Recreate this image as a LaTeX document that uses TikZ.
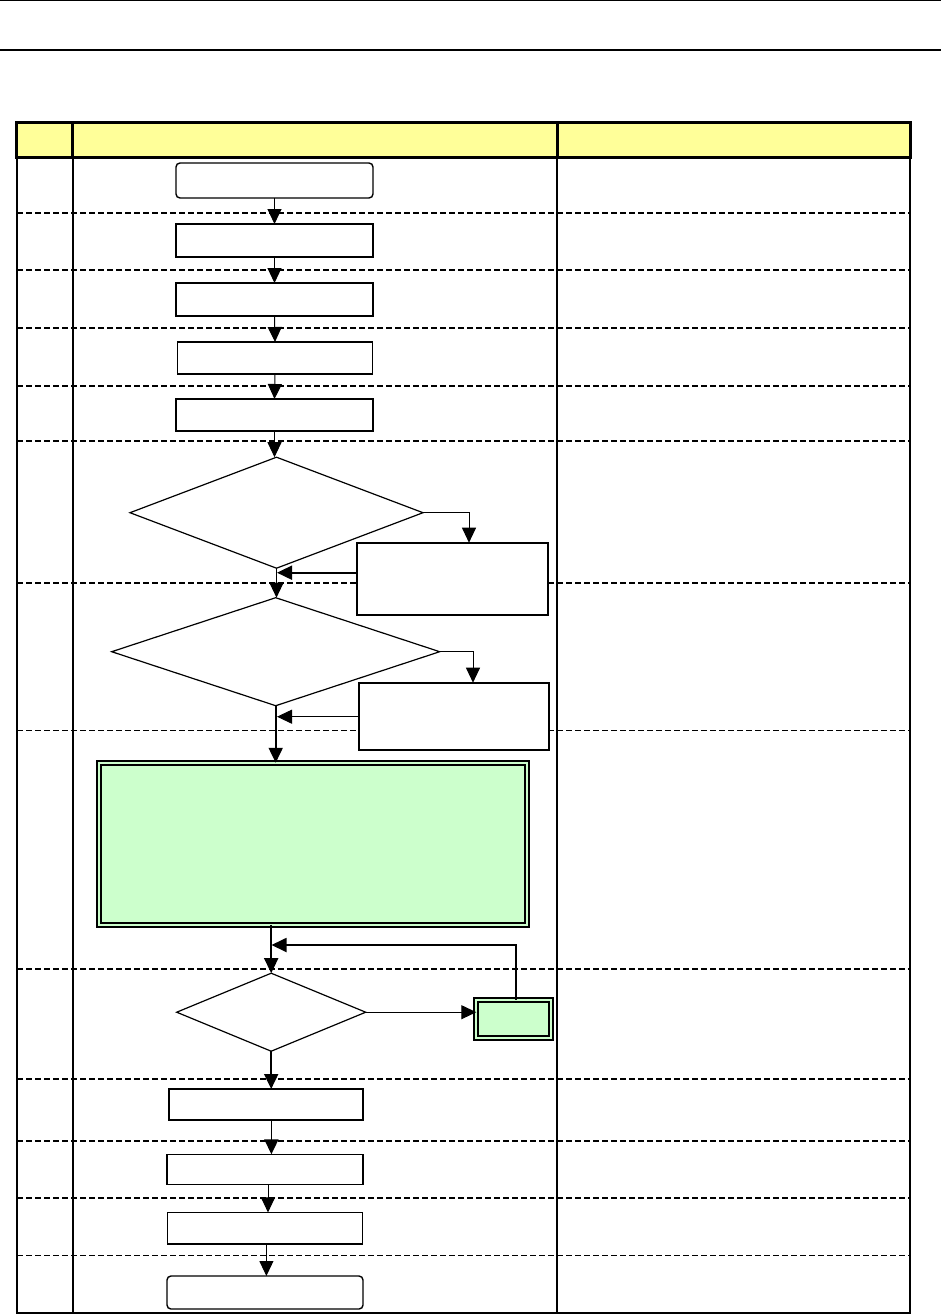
\documentclass[tikz,border=0pt]{standalone}
\usetikzlibrary{arrows.meta,shapes.geometric}
\definecolor{hdr}{HTML}{FFFF99}
\definecolor{grn}{HTML}{CCFFCC}
\begin{document}
\begin{tikzpicture}[x=1pt,y=-1pt,
  box/.style={draw,line width=1.6pt,inner sep=0pt,outer sep=0pt,fill=white},
  rbox/.style={box,rounded corners=4pt},
  dia/.style={draw,diamond,line width=1.2pt,inner sep=0pt,outer sep=0pt,fill=white},
  gbox/.style={draw,line width=1.9pt,double=grn,double distance=2.2pt,fill=grn,inner sep=0pt,outer sep=0pt},
  arr/.style={line width=1pt,-{Triangle[length=15pt,width=14pt]}},
  tarr/.style={line width=1.8pt,-{Triangle[length=15pt,width=14pt]}},
  rowline/.style={line width=1.6pt,dash pattern=on 5.5pt off 3.5pt},
  rowthin/.style={line width=1pt,dash pattern=on 5.5pt off 3.5pt},
  frame/.style={line width=1.2pt}]
\useasboundingbox (0,0) rectangle (941,1315);
\fill[white] (0,0) rectangle (941,1315);
% top rules
\draw[line width=1pt] (0,0.5) -- (941,0.5);
\draw[line width=2pt] (0,49.5) -- (941,49.5);
% header
\draw[line width=3pt,fill=hdr] (16,122) rectangle (910,157);
\draw[line width=3pt] (72,122) -- (72,157);
\draw[line width=3pt] (557,122) -- (557,157);
% body frame
\draw[frame] (17,157) -- (17,1313) -- (910,1313) -- (910,157);
\draw[frame] (73,157) -- (73,1313);
\draw[frame] (557,157) -- (557,1313);
% row separators
\foreach \yy in {213,270,328,386,441,583,969,1079,1141,1198}
  \draw[rowline] (17,\yy) -- (910,\yy);
\foreach \yy in {730.5,1255.5}
  \draw[rowthin] (17,\yy) -- (910,\yy);
% nodes
\node[rbox,line width=1.4pt,minimum width=197pt,minimum height=35pt] (b1) at (274.5,180.5) {};
\node[box,minimum width=197pt,minimum height=33pt] (b2) at (274.5,240.5) {};
\node[box,minimum width=197pt,minimum height=33pt] (b3) at (274.5,299.5) {};
\node[box,line width=1.3pt,minimum width=195pt,minimum height=32pt] (b4) at (275,358) {};
\node[box,line width=1.8pt,minimum width=197pt,minimum height=32pt] (b5) at (274.5,415) {};
\node[dia,minimum width=293pt,minimum height=111pt] (d1) at (276.5,512.7) {};
\node[box,line width=1.8pt,minimum width=191pt,minimum height=72pt] (A) at (452.3,578.9) {};
\node[dia,minimum width=328pt,minimum height=108pt] (d2) at (275.7,651.7) {};
\node[box,line width=1.8pt,minimum width=190pt,minimum height=67pt] (B) at (454,716.4) {};
\node[gbox,minimum width=428pt,minimum height=162pt] (g) at (312.7,843.8) {};
\node[dia,minimum width=189pt,minimum height=78pt] (d3) at (271.2,1012.2) {};
\node[gbox,minimum width=75pt,minimum height=38pt] (sg) at (513.8,1018.8) {};
\node[box,line width=2.4pt,minimum width=194pt,minimum height=31pt] (b6) at (266,1104.5) {};
\node[box,line width=1.4pt,minimum width=196pt,minimum height=30pt] (b7) at (265,1169.3) {};
\node[box,line width=1.6pt,minimum width=195pt,minimum height=31.5pt] (b8) at (265,1228.2) {};
\node[rbox,line width=1.4pt,minimum width=196pt,minimum height=33pt] (b9) at (265,1292.5) {};
% helper coordinates
\coordinate (a1) at (469,542.7);
\coordinate (m1) at (277,572.7);
\coordinate (a2) at (473,682.7);
\coordinate (m2) at (277,716.7);
\coordinate (j3) at (271.5,945);
% connectors
\draw[arr] (b1.south) -- (b2.north);
\draw[arr] (b2.south) -- (b3.north);
\draw[arr] (b3.south) -- (b4.north);
\draw[arr] (b4.south) -- (b5.north);
\draw[arr] (b5.south) -- (b5.south |- d1.north);
\draw[arr] (d1.east) -| (a1);
\draw[tarr] (A.west |- m1) -- (m1);
\draw[arr] (d1.south) -- (d1.south |- d2.north);
\draw[arr] (d2.east) -| (a2);
\draw[arr] (B.west |- m2) -- (m2);
\draw[tarr] (d2.south) -- (d2.south |- g.north);
\draw[tarr] (d3.north |- g.south) -- (d3.north);
\draw[tarr] (sg.north -| 515.7,0) |- (j3);
\draw[arr] (d3.east) -- (d3.east -| sg.west);
\draw[tarr] (d3.south) -- (d3.south |- b6.north);
\draw[tarr] (b6.south -| 271.4,0) -- (271.4,0 |- b7.north);
\draw[arr] (b7.south -| 268,0) -- (268,0 |- b8.north);
\draw[arr] (b8.south -| 266.4,0) -- (266.4,0 |- b9.north);
\end{tikzpicture}
\end{document}
